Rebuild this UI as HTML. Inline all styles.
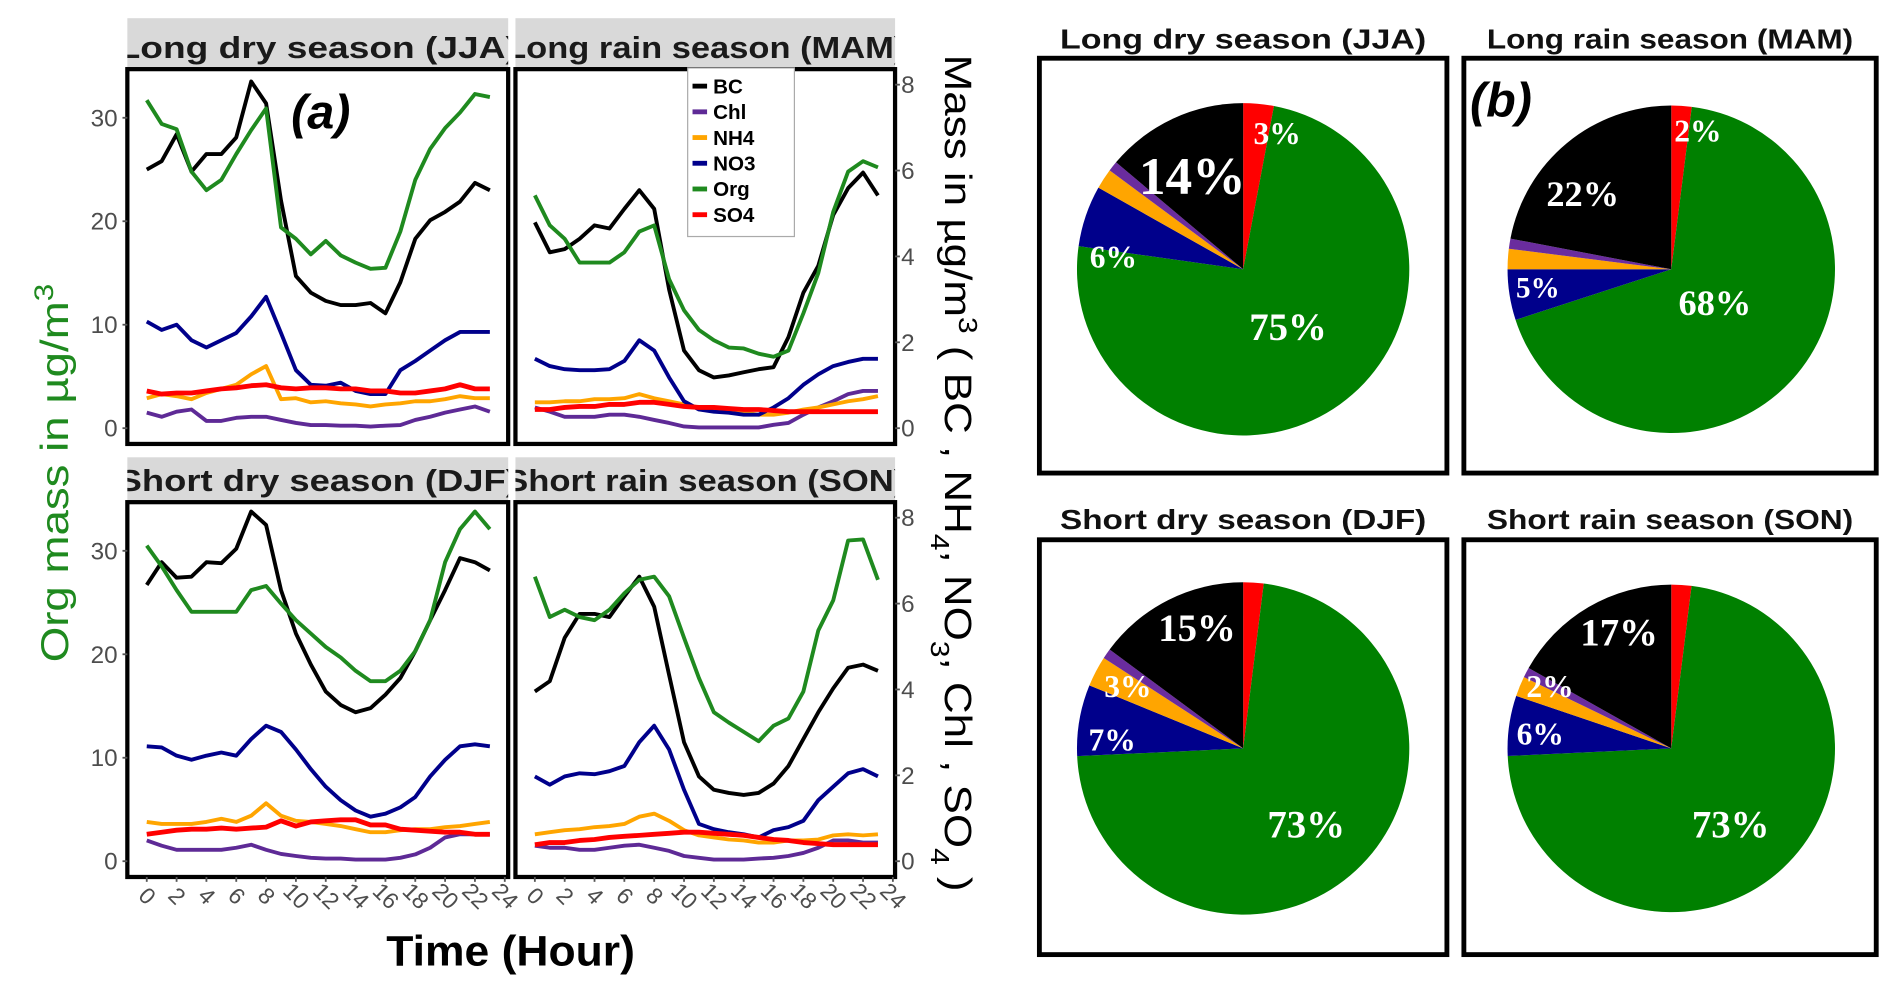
<!DOCTYPE html>
<html><head><meta charset="utf-8"><style>
html,body{margin:0;padding:0;background:#fff;}
svg{display:block;}
</style></head><body>
<svg id="fig" width="1892" height="991" viewBox="0 0 1560 817" preserveAspectRatio="none" xmlns="http://www.w3.org/2000/svg" font-family="'Liberation Sans', sans-serif"></svg>
<script>
// ===== Data: diurnal (values in Org-axis units, µg/m3) =====
const hours = [0,1,2,3,4,5,6,7,8,9,10,11,12,13,14,15,16,17,18,19,20,21,22,23];
const seasonNames = ["Long dry season (JJA)","Long rain season (MAM)","Short dry season (DJF)","Short rain season (SON)"];
const speciesNames = ["BC","Chl","NH4","NO3","Org","SO4"];
const xTickLabels = [0,2,4,6,8,10,12,14,16,18,20,22,24];
const leftTicks = [0,10,20,30];
const rightTicks = [0,2,4,6,8];

const jjaOrg = [31.7,29.4,28.9,24.8,23.0,24.0,26.5,28.8,30.9,19.4,18.3,16.8,18.1,16.7,16.0,15.4,15.5,19.0,24.0,27.0,29.0,30.5,32.3,32.0];
const jjaBC  = [25.0,25.8,28.4,24.8,26.5,26.5,28.1,33.5,31.4,22.0,14.7,13.1,12.3,11.9,11.9,12.1,11.1,14.1,18.3,20.1,20.9,21.9,23.7,23.0];
const jjaNO3 = [10.3,9.5,10.0,8.5,7.8,8.5,9.2,10.8,12.7,9.2,5.6,4.2,4.1,4.4,3.6,3.3,3.3,5.6,6.5,7.5,8.5,9.3,9.3,9.3];
const jjaNH4 = [2.9,3.3,3.1,2.8,3.4,3.8,4.2,5.2,6.0,2.8,2.9,2.5,2.6,2.4,2.3,2.1,2.3,2.4,2.6,2.6,2.8,3.1,2.9,2.9];
const jjaSO4 = [3.6,3.3,3.4,3.4,3.6,3.8,3.9,4.1,4.2,3.9,3.8,3.9,3.9,3.8,3.8,3.6,3.6,3.4,3.4,3.6,3.8,4.2,3.8,3.8];
const jjaChl = [1.5,1.1,1.6,1.8,0.7,0.7,1.0,1.1,1.1,0.8,0.5,0.3,0.3,0.25,0.25,0.15,0.25,0.3,0.8,1.1,1.5,1.8,2.1,1.6];

const mamOrg = [22.5,19.6,18.3,16.0,16.0,16.0,17.0,19.0,19.6,14.4,11.4,9.5,8.5,7.8,7.7,7.2,6.9,7.5,11.1,15.0,20.9,24.8,25.8,25.2];
const mamBC  = [19.9,17.0,17.3,18.3,19.6,19.3,21.2,23.0,21.2,13.4,7.5,5.6,4.9,5.1,5.4,5.7,5.9,8.8,13.1,15.7,20.6,23.2,24.7,22.5];
const mamNO3 = [6.7,6.0,5.7,5.6,5.6,5.7,6.5,8.5,7.5,4.9,2.6,1.8,1.6,1.5,1.3,1.3,2.0,2.9,4.2,5.2,6.0,6.4,6.7,6.7];
const mamNH4 = [2.5,2.5,2.6,2.6,2.8,2.8,2.9,3.3,2.9,2.6,2.3,2.0,1.8,1.6,1.5,1.3,1.3,1.5,1.8,2.0,2.3,2.6,2.8,3.1];
const mamSO4 = [1.8,1.8,2.0,2.1,2.1,2.3,2.3,2.5,2.5,2.3,2.1,2.0,2.0,1.9,1.8,1.8,1.7,1.6,1.6,1.6,1.6,1.6,1.6,1.6];
const mamChl = [2.0,1.6,1.1,1.1,1.1,1.3,1.3,1.1,0.8,0.5,0.16,0.07,0.07,0.07,0.07,0.07,0.33,0.5,1.3,2.0,2.6,3.3,3.6,3.6];

const djfOrg = [30.5,28.5,26.2,24.1,24.1,24.1,24.1,26.2,26.6,24.9,23.3,22.0,20.7,19.7,18.4,17.4,17.4,18.4,20.3,23.3,28.9,32.1,33.8,32.1];
const djfBC  = [26.7,28.9,27.4,27.5,28.9,28.8,30.2,33.8,32.5,26.2,22.0,19.0,16.4,15.1,14.4,14.8,16.1,17.7,20.3,23.3,26.2,29.3,28.9,28.1];
const djfNO3 = [11.1,11.0,10.2,9.8,10.2,10.5,10.2,11.8,13.1,12.5,10.8,8.9,7.2,5.9,4.9,4.3,4.6,5.2,6.2,8.2,9.8,11.1,11.3,11.1];
const djfNH4 = [3.8,3.6,3.6,3.6,3.8,4.1,3.8,4.4,5.6,4.4,3.9,3.8,3.6,3.4,3.1,2.8,2.8,3.0,3.1,3.1,3.3,3.4,3.6,3.8];
const djfSO4 = [2.6,2.8,3.0,3.1,3.1,3.2,3.1,3.2,3.3,3.9,3.4,3.8,3.9,4.0,4.0,3.5,3.5,3.1,3.0,2.9,2.8,2.8,2.6,2.6];
const djfChl = [2.0,1.5,1.1,1.1,1.1,1.1,1.3,1.6,1.1,0.7,0.5,0.33,0.26,0.26,0.16,0.16,0.16,0.33,0.66,1.3,2.3,2.6,2.6,2.6];

const sonOrg = [27.5,23.6,24.3,23.6,23.3,24.3,25.9,27.2,27.5,25.6,21.6,17.7,14.4,13.4,12.5,11.6,13.1,13.8,16.4,22.3,25.2,31.0,31.1,27.2];
const sonBC  = [16.4,17.4,21.6,23.9,23.9,23.6,25.6,27.5,24.6,18.0,11.5,8.2,6.9,6.6,6.4,6.6,7.5,9.2,11.8,14.4,16.7,18.7,19.0,18.4];
const sonNO3 = [8.2,7.4,8.2,8.5,8.4,8.7,9.2,11.5,13.1,10.8,6.9,3.6,3.1,2.8,2.6,2.3,3.0,3.3,3.9,5.9,7.2,8.5,8.9,8.2];
const sonNH4 = [2.6,2.8,3.0,3.1,3.3,3.4,3.6,4.3,4.6,3.9,3.0,2.5,2.3,2.1,2.0,1.8,1.8,2.0,2.0,2.1,2.5,2.6,2.5,2.6];
const sonSO4 = [1.6,1.8,1.8,2.0,2.1,2.3,2.4,2.5,2.6,2.7,2.8,2.8,2.7,2.6,2.5,2.3,2.1,2.0,1.8,1.7,1.6,1.6,1.6,1.6];
const sonChl = [1.5,1.3,1.3,1.1,1.1,1.3,1.5,1.6,1.3,1.0,0.5,0.33,0.16,0.16,0.16,0.26,0.33,0.5,0.8,1.3,2.0,2.0,1.8,1.8];

// ===== Data: pie shares (%), clockwise from 12 o'clock: SO4, Org, NO3, NH4, Chl, BC =====
const pieOrder = ["SO4","Org","NO3","NH4","Chl","BC"];
const pieJJA = [3,75,6,2,1,14];
const pieMAM = [2,68,5,2,1,22];
const pieDJF = [2,73,7,3,1,15];
const pieSON = [2,73,6,2,1,17];
</script>
<script>
const NS="http://www.w3.org/2000/svg";
const svg=document.getElementById('fig');
function mk(tag,attrs,parent){const e=document.createElementNS(NS,tag);for(const k in attrs)e.setAttribute(k,attrs[k]);(parent||svg).appendChild(e);return e;}
const colors={BC:"#000000",Chl:"#5e2a96",NH4:"#ffa500",NO3:"#00008b",Org:"#1f8a1f",SO4:"#ff0000"};
const pieColors={BC:"#000000",Chl:"#6a2c9e",NH4:"#ffa500",NO3:"#00008b",Org:"#008000",SO4:"#ff0000"};

const panels=[
 {x0:105,x1:419,y0:57,y1:366,strip:[15,57],name:"jja",data:{BC:jjaBC,Chl:jjaChl,NH4:jjaNH4,NO3:jjaNO3,Org:jjaOrg,SO4:jjaSO4},title:seasonNames[0]},
 {x0:425,x1:738,y0:57,y1:366,strip:[15,57],name:"mam",data:{BC:mamBC,Chl:mamChl,NH4:mamNH4,NO3:mamNO3,Org:mamOrg,SO4:mamSO4},title:seasonNames[1]},
 {x0:105,x1:419,y0:414,y1:723,strip:[377,414],name:"djf",data:{BC:djfBC,Chl:djfChl,NH4:djfNH4,NO3:djfNO3,Org:djfOrg,SO4:djfSO4},title:seasonNames[2]},
 {x0:425,x1:738,y0:414,y1:723,strip:[377,414],name:"son",data:{BC:sonBC,Chl:sonChl,NH4:sonNH4,NO3:sonNO3,Org:sonOrg,SO4:sonSO4},title:seasonNames[3]}
];
const pxPerUnit=8.53; // Org axis
const secFactor=4.15; // primary / secondary
panels.forEach((p,i)=>{
  const xs=h=>p.x0+16+h*12.3;
  const ys=v=>(p.y0+296)-v*pxPerUnit;
  const g=mk('g',{});
  
  
  const cp=mk('clipPath',{id:'clip'+i},g);
  mk('rect',{x:p.x0,y:p.strip[0],width:p.x1-p.x0,height:p.strip[1]-p.strip[0]},cp);
  const sr=mk('rect',{x:p.x0,y:p.strip[0],width:p.x1-p.x0,height:p.strip[1]-p.strip[0],fill:"#d9d9d9"},g);
  
  
  const st=mk('text',{x:(p.x0+p.x1)/2,y:p.strip[1]-9,'text-anchor':'middle','font-size':25,'font-weight':'bold','font-family':"'Liberation Sans Narrow','Liberation Sans',sans-serif",fill:'#1a1a1a','clip-path':'url(#clip'+i+')',textLength:330,lengthAdjust:'spacingAndGlyphs'},g);
  st.textContent=p.title;
  
  
  mk('rect',{x:p.x0,y:p.y0,width:p.x1-p.x0,height:p.y1-p.y0,fill:'#fff'},g);
  speciesNames.forEach(s=>{
    const vals=p.data[s];
    const d=vals.map((v,k)=>(k?'L':'M')+xs(hours[k]).toFixed(1)+','+ys(v).toFixed(1)).join(' ');
    const l=mk('path',{d:d,fill:'none',stroke:colors[s],'stroke-width':s==='SO4'?4:3.2,'stroke-linejoin':'round'},g);
    
    
  });
  const b=mk('rect',{x:p.x0,y:p.y0,width:p.x1-p.x0,height:p.y1-p.y0,fill:'none',stroke:'#000','stroke-width':3.5},g);
  
  
  if(i%2===0){
    leftTicks.forEach(t=>{
      mk('line',{x1:p.x0-4,x2:p.x0,y1:ys(t),y2:ys(t),stroke:'#555','stroke-width':1.5},g);
      const tx=mk('text',{x:p.x0-8,y:ys(t)+7,'text-anchor':'end','font-size':20,fill:'#4d4d4d','font-family':"'Liberation Sans Narrow','Liberation Sans',sans-serif"},g);
      tx.textContent=t;
      
      
    });
  } else {
    rightTicks.forEach(t=>{
      const y=ys(t*secFactor);
      mk('line',{x1:p.x1,x2:p.x1+4,y1:y,y2:y,stroke:'#555','stroke-width':1.5},g);
      const tx=mk('text',{x:p.x1+5,y:y+7,'text-anchor':'start','font-size':20,fill:'#4d4d4d','font-family':"'Liberation Sans Narrow','Liberation Sans',sans-serif"},g);
      tx.textContent=t;
      
      
    });
  }
  if(i>=2){
    xTickLabels.forEach(t=>{
      const x=xs(t);
      mk('line',{x1:x,x2:x,y1:p.y1,y2:p.y1+4,stroke:'#555','stroke-width':1.5},g);
      const tx=mk('text',{x:x,y:p.y1+22,'text-anchor':'middle','font-size':19,fill:'#4d4d4d','font-family':"'Liberation Sans Narrow','Liberation Sans',sans-serif",transform:'rotate(45 '+x+' '+(p.y1+16)+')'},g);
      tx.textContent=t;
      
      
    });
  }
});

// (a) label
let t=mk('text',{x:240,y:106,'font-size':40,'font-weight':'bold','font-style':'italic'});t.textContent='(a)';



// legend
const lg=mk('g',{});


mk('rect',{x:567,y:56,width:88,height:139,fill:'#fff',stroke:'#aaa','stroke-width':1},lg);
speciesNames.forEach((s,k)=>{
  const y=71+k*21.2;
  mk('line',{x1:571,x2:583,y1:y,y2:y,stroke:colors[s],'stroke-width':4},lg);
  const tx=mk('text',{x:588,y:y+6,'font-size':17,'font-weight':'bold','font-family':"'Liberation Sans Narrow','Liberation Sans',sans-serif"},lg);
  tx.textContent=s;
  
  
});

// axis titles
t=mk('text',{x:0,y:0,'font-size':32,fill:'#1f8a1f','text-anchor':'middle',transform:'translate(56 390) rotate(-90)',textLength:312,lengthAdjust:'spacingAndGlyphs'});
t.innerHTML='Org mass in µg/m<tspan baseline-shift="super" font-size="22">3</tspan>';


t=mk('text',{x:0,y:0,'font-size':31,fill:'#000','text-anchor':'middle',transform:'translate(779 390) rotate(90)',textLength:690,lengthAdjust:'spacingAndGlyphs'});
t.innerHTML='Mass in µg/m<tspan baseline-shift="super" font-size="21">3</tspan> ( BC , NH<tspan baseline-shift="sub" font-size="21">4</tspan>, NO<tspan baseline-shift="sub" font-size="21">3</tspan>, Chl , SO<tspan baseline-shift="sub" font-size="21">4</tspan> )';


t=mk('text',{x:421,y:796,'font-size':35,'font-weight':'bold','text-anchor':'middle','font-family':"'Liberation Sans Narrow','Liberation Sans',sans-serif",textLength:205,lengthAdjust:'spacingAndGlyphs'});
t.textContent='Time (Hour)';



// ===== Pies =====
const pies=[
 {name:'jja',vals:pieJJA,box:[857,48,336,342],cx:1025,cy:222,r:137,title:seasonNames[0],ty:40,
  labels:[['3%',1053,110,26],['75%',1062,270,32],['6%',918,212,26],['14%',983,145,44]]},
 {name:'mam',vals:pieMAM,box:[1207,48,340,342],cx:1378,cy:222,r:135,title:seasonNames[1],ty:40,
  labels:[['2%',1400,108,26],['68%',1414,250,30],['5%',1268,238,24],['22%',1305,160,30]]},
 {name:'djf',vals:pieDJF,box:[857,445,336,342],cx:1025,cy:617,r:137,title:seasonNames[2],ty:436,
  labels:[['15%',987,518,32],['3%',930,566,26],['7%',917,610,26],['73%',1077,680,32]]},
 {name:'son',vals:pieSON,box:[1207,445,340,342],cx:1378,cy:617,r:135,title:seasonNames[3],ty:436,
  labels:[['17%',1335,522,32],['2%',1278,566,26],['6%',1270,605,26],['73%',1427,680,32]]}
];
pies.forEach(p=>{
  const g=mk('g',{});
  
  
  const tt=mk('text',{x:p.box[0]+p.box[2]/2,y:p.ty,'text-anchor':'middle','font-size':23,'font-weight':'bold','font-family':"'Liberation Sans Narrow','Liberation Sans',sans-serif",fill:'#111',textLength:302,lengthAdjust:'spacingAndGlyphs'},g);
  tt.textContent=p.title;
  
  
  const bx=mk('rect',{x:p.box[0],y:p.box[1],width:p.box[2],height:p.box[3],fill:'#fff',stroke:'#000','stroke-width':4},g);
  
  
  const tot=p.vals.reduce((a,b)=>a+b,0);
  let acc=0;
  p.vals.forEach((v,k)=>{
    const a0=acc/tot*2*Math.PI; acc+=v; const a1=acc/tot*2*Math.PI;
    const x0=p.cx+p.r*Math.sin(a0), y0=p.cy-p.r*Math.cos(a0);
    const x1=p.cx+p.r*Math.sin(a1), y1=p.cy-p.r*Math.cos(a1);
    const large=(a1-a0)>Math.PI?1:0;
    const sl=mk('path',{d:`M${p.cx},${p.cy} L${x0.toFixed(2)},${y0.toFixed(2)} A${p.r},${p.r} 0 ${large} 1 ${x1.toFixed(2)},${y1.toFixed(2)} Z`,fill:pieColors[pieOrder[k]]},g);
    
    
  });
  p.labels.forEach(L=>{
    const tx=mk('text',{x:L[1],y:L[2],'text-anchor':'middle','dominant-baseline':'central','font-size':L[3],'font-weight':'bold',fill:'#fff','font-family':"'Liberation Serif',serif"},g);
    tx.textContent=L[0];
    
    
  });
});
t=mk('text',{x:1212,y:96,'font-size':40,'font-weight':'bold','font-style':'italic'});t.textContent='(b)';


</script>
</body></html>
